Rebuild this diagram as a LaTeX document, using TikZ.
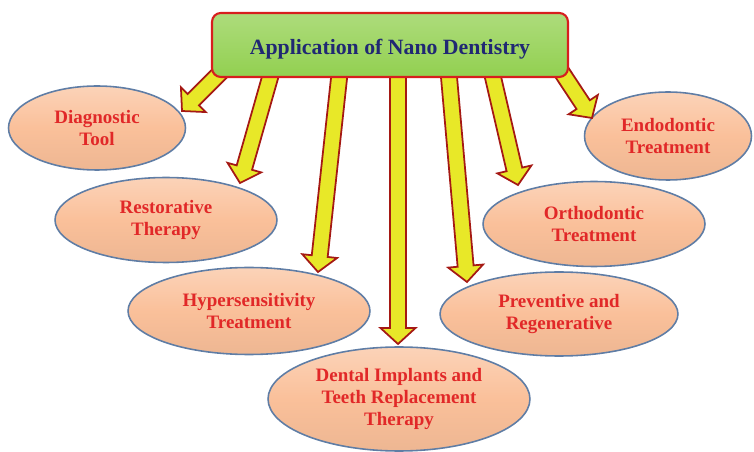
\documentclass[tikz,border=0pt]{standalone}
\usepackage{fontspec}
\setmainfont{Liberation Serif}
\usetikzlibrary{shapes.geometric,calc}

\definecolor{peach}{RGB}{250,192,154}
\definecolor{ellborder}{RGB}{95,125,165}
\definecolor{txtred}{RGB}{225,40,40}
\definecolor{navy}{RGB}{32,40,115}
\definecolor{boxgreen}{RGB}{146,208,80}
\definecolor{boxred}{RGB}{215,30,30}
\definecolor{arrowyellow}{RGB}{232,232,40}
\definecolor{arrowred}{RGB}{165,25,20}

\tikzset{
  bubble/.style={ellipse, draw=ellborder, line width=0.9pt,
    top color=peach!70!white, bottom color=peach!95!black, middle color=peach,
    inner sep=0pt, align=center, text=txtred,
    font=\fontsize{10.8}{12.4}\selectfont\bfseries},
  titlebox/.style={rectangle, rounded corners=5pt, draw=boxred, line width=1.2pt,
    top color=boxgreen!75!white, bottom color=boxgreen, text=navy,
    font=\fontsize{12.4}{15}\selectfont\bfseries,
    text height=14.2pt, text depth=2.9pt,
    minimum width=7.12cm, minimum height=1.28cm, inner sep=0pt},
  blockarrow/.style={fill=arrowyellow, draw=arrowred, line width=1pt, line join=miter}
}

\newcommand{\blockarr}[2]{%
  \coordinate (hb) at ($(#2)!0.32cm!(#1)$);
  \path[blockarrow] ($(#1)!0.16cm!90:(#2)$) -- ($(hb)!0.16cm!90:(#2)$)
    -- ($(hb)!0.35cm!90:(#2)$) -- (#2) -- ($(hb)!0.35cm!-90:(#2)$)
    -- ($(hb)!0.16cm!-90:(#2)$) -- ($(#1)!0.16cm!-90:(#2)$) -- cycle;
}

\begin{document}
\begin{tikzpicture}[x=0.02cm,y=-0.02cm]
\useasboundingbox (0,0) rectangle (754,452);

% ellipses
\node[bubble, minimum width=3.54cm, minimum height=1.68cm] (diag) at (97,128) {Diagnostic\\Tool};
\node[bubble, minimum width=4.44cm, minimum height=1.70cm] (rest) at (166,220) {Restorative\\Therapy};
\node[bubble, minimum width=4.84cm, minimum height=1.74cm] (hyper) at (249,311) {Hypersensitivity\\Treatment};
\node[bubble, minimum width=5.24cm, minimum height=2.08cm] (dental) at (399,399) {Dental Implants and\\Teeth Replacement\\Therapy};
\node[bubble, minimum width=4.76cm, minimum height=1.68cm] (prev) at (559,314) {Preventive and\\Regenerative};
\node[bubble, minimum width=4.44cm, minimum height=1.70cm] (ortho) at (594,224) {Orthodontic\\Treatment};
\node[bubble, minimum width=3.34cm, minimum height=1.76cm] (endo) at (668,136) {Endodontic\\Treatment};

% arrow end points
\coordinate (s1) at (230,63);  \coordinate (t1) at (182,111);
\coordinate (s2) at (275,60);  \coordinate (t2) at (240,183);
\coordinate (s3) at (341,60);  \coordinate (t3) at (318,272);
\coordinate (s4) at (398,60);  \coordinate (t4) at (398,344);
\coordinate (s5) at (447.5,60);\coordinate (t5) at (467,282);
\coordinate (s6) at (489,60);  \coordinate (t6) at (518,185);
\coordinate (s7) at (555,62);  \coordinate (t7) at (592,118);

\blockarr{s1}{t1}
\blockarr{s2}{t2}
\blockarr{s3}{t3}
\blockarr{s4}{t4}
\blockarr{s5}{t5}
\blockarr{s6}{t6}
\blockarr{s7}{t7}

% title
\node[titlebox] (title) at (390,45) {Application of Nano Dentistry};
\end{tikzpicture}
\end{document}
